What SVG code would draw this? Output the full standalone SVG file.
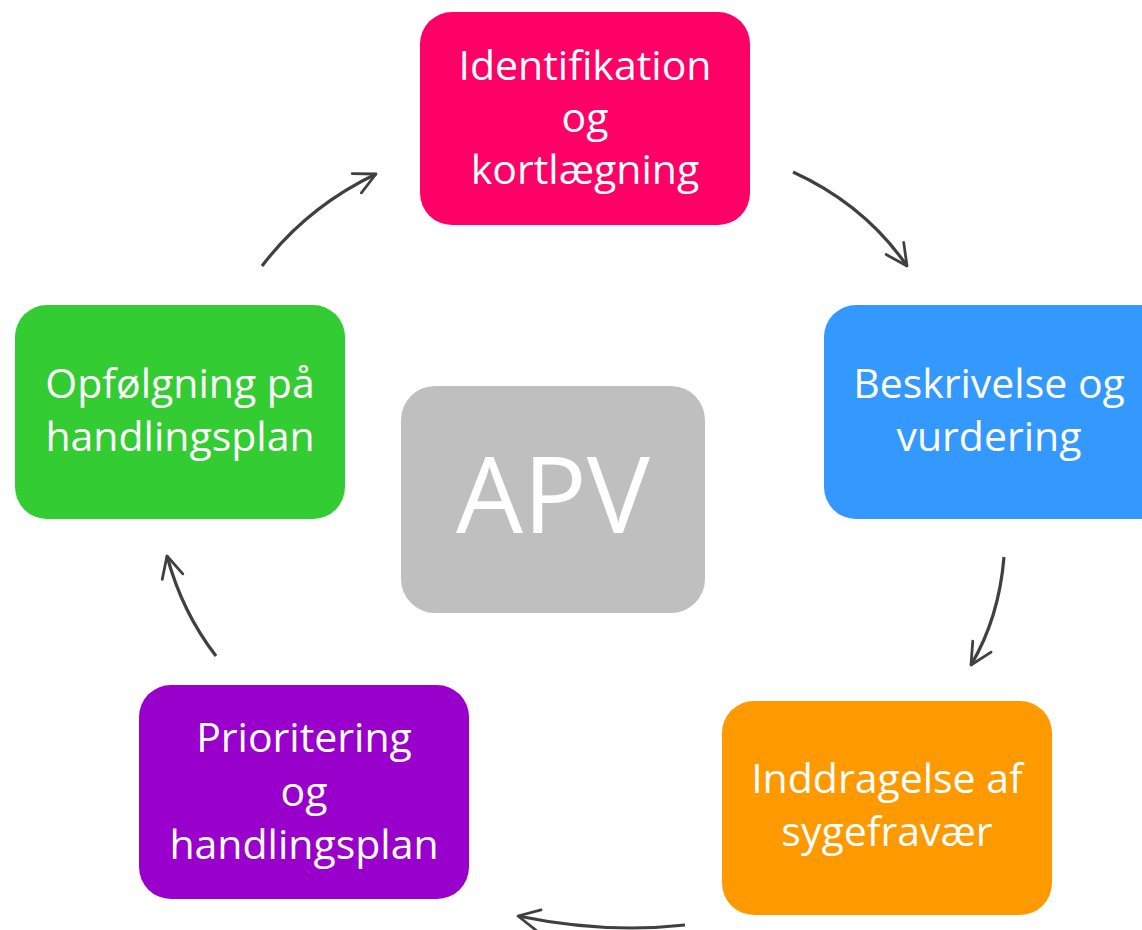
<svg xmlns="http://www.w3.org/2000/svg" width="1142" height="930" viewBox="0 0 1142 930">
<defs>
<marker id="arr" viewBox="0 0 12 12" refX="11" refY="6" markerWidth="8" markerHeight="8" markerUnits="strokeWidth" orient="auto">
<path d="M1,1 L11,6 L1,11" fill="none" stroke="#404040" stroke-width="1.3" stroke-linecap="round" stroke-linejoin="round"/>
</marker>
<style>
.lbl{font-family:"Open Sans","Noto Sans","DejaVu Sans",sans-serif;font-size:41px;fill:#ffffff;text-anchor:middle}
.con{fill:none;stroke:#404040;stroke-width:3.2;marker-end:url(#arr)}
</style>
</defs>
<rect width="1142" height="930" fill="#ffffff"/>
<g id="n-identifikation">
<rect x="420" y="12" width="330" height="213" rx="32" fill="#FF0066"/>
<text class="lbl" x="585" y="80">Identifikation</text>
<text class="lbl" x="585" y="132">og</text>
<text class="lbl" x="585" y="184">kortlægning</text>
</g>
<g id="n-beskrivelse">
<rect x="824" y="305" width="350" height="214" rx="32" fill="#3399FF"/>
<text class="lbl" x="989" y="398">Beskrivelse og</text>
<text class="lbl" x="989" y="451">vurdering</text>
</g>
<g id="n-inddragelse">
<rect x="722" y="701" width="330" height="214" rx="32" fill="#FF9900"/>
<text class="lbl" x="887" y="793">Inddragelse af</text>
<text class="lbl" x="887" y="846">sygefravær</text>
</g>
<g id="n-prioritering">
<rect x="139" y="685" width="330" height="214" rx="32" fill="#9900CC"/>
<text class="lbl" x="304" y="752">Prioritering</text>
<text class="lbl" x="304" y="806">og</text>
<text class="lbl" x="304" y="859">handlingsplan</text>
</g>
<g id="n-opfolgning">
<rect x="15" y="305" width="330" height="214" rx="32" fill="#33CC33"/>
<text class="lbl" x="180" y="398">Opfølgning på</text>
<text class="lbl" x="180" y="451">handlingsplan</text>
</g>
<g id="n-apv">
<rect x="401" y="386" width="304" height="227" rx="34" fill="#BFBFBF"/>
<text x="553" y="533" font-family="'Open Sans','Noto Sans',sans-serif" font-size="106" fill="#ffffff" text-anchor="middle">APV</text>
</g>
<g id="connectors">
<path class="con" d="M262,266 Q307,207 376,174"/>
<path class="con" d="M793,172 Q865,205 907,266"/>
<path class="con" d="M1004,557 Q999,618 971,665"/>
<path class="con" d="M685,925 Q605,934 518,916"/>
<path class="con" d="M216,656 Q182,612 167,556"/>
</g>
</svg>
